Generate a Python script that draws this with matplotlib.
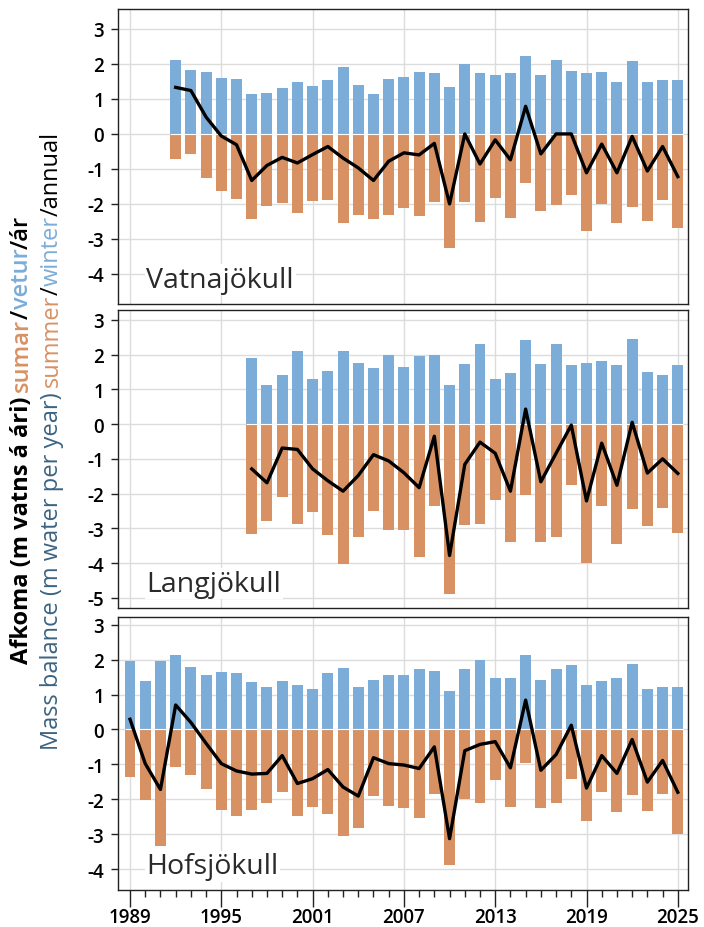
import numpy as np
import matplotlib
matplotlib.use("Agg")
from matplotlib import pyplot as plt
from matplotlib.ticker import MultipleLocator, FixedLocator

plt.rcParams['font.family'] = ['Open Sans', 'DejaVu Sans']

years = list(range(1989, 2026))

# Vatnajökull, 1992-2025
vat_start = 1992
vat_winter = [2.10, 1.83, 1.78, 1.60, 1.57, 1.14, 1.17, 1.31, 1.49, 1.37, 1.54, 1.91, 1.40, 1.14, 1.57, 1.63,
              1.77, 1.74, 1.34, 2.00, 1.74, 1.69, 1.74, 2.23, 1.69, 2.11, 1.80, 1.74, 1.77, 1.49, 2.09, 1.49, 1.54, 1.54]
vat_summer = [-0.71, -0.57, -1.26, -1.63, -1.86, -2.43, -2.06, -1.97, -2.26, -1.91, -1.89, -2.54, -2.31, -2.43, -2.31, -2.11,
              -2.34, -1.94, -3.26, -1.94, -2.51, -1.83, -2.40, -1.40, -2.20, -2.03, -1.74, -2.77, -2.00, -2.54, -2.09, -2.49, -1.89, -2.69]
vat_annual = [1.33, 1.24, 0.48, -0.06, -0.31, -1.33, -0.90, -0.67, -0.83, -0.59, -0.36, -0.69, -0.97, -1.33, -0.78, -0.54,
              -0.60, -0.27, -2.00, 0.00, -0.86, -0.17, -0.74, 0.79, -0.57, 0.00, 0.00, -1.11, -0.29, -1.11, -0.07, -1.06, -0.36, -1.22]

# Langjökull, 1997-2025
lan_start = 1997
lan_winter = [1.89, 1.11, 1.40, 2.11, 1.29, 1.54, 2.09, 1.77, 1.60, 2.00, 1.63,
              1.97, 2.00, 1.11, 1.74, 2.31, 1.31, 1.46, 2.43, 1.74, 2.29, 1.69, 1.77, 1.80, 1.69, 2.46, 1.51, 1.40, 1.71]
lan_summer = [-3.17, -2.80, -2.11, -2.86, -2.54, -3.20, -4.03, -3.26, -2.51, -3.06, -3.06,
              -3.83, -2.37, -4.89, -2.91, -2.86, -2.17, -3.40, -2.03, -3.40, -3.26, -1.74, -4.00, -2.37, -3.46, -2.43, -2.94, -2.40, -3.14]
lan_annual = [-1.29, -1.69, -0.69, -0.73, -1.29, -1.63, -1.93, -1.48, -0.88, -1.06, -1.40,
              -1.83, -0.35, -3.78, -1.16, -0.52, -0.84, -1.93, 0.43, -1.66, -0.84, -0.03, -2.21, -0.55, -1.76, 0.05, -1.41, -1.00, -1.42]

# Hofsjökull, 1989-2025
hof_start = 1989
hof_winter = [1.95, 1.38, 1.95, 2.12, 1.78, 1.55, 1.64, 1.61, 1.35, 1.21, 1.38, 1.26, 1.15, 1.61, 1.75, 1.21, 1.41, 1.55, 1.55,
              1.72, 1.67, 1.09, 1.72, 1.98, 1.46, 1.46, 2.12, 1.41, 1.72, 1.84, 1.26, 1.38, 1.46, 1.87, 1.15, 1.21, 1.21]
hof_summer = [-1.35, -2.01, -3.33, -1.09, -1.32, -1.72, -2.30, -2.47, -2.30, -2.12, -1.78, -2.47, -2.21, -2.41, -3.04, -2.81, -1.92, -2.18, -2.24,
              -2.53, -1.84, -3.88, -1.98, -2.10, -1.46, -2.21, -0.95, -2.24, -2.12, -1.41, -2.61, -1.78, -2.38, -1.89, -2.35, -1.84, -3.01]
hof_annual = [0.29, -0.98, -1.72, 0.70, 0.20, -0.40, -0.98, -1.19, -1.28, -1.26, -0.75, -1.55, -1.41, -1.15, -1.65, -1.91, -0.81, -0.98, -1.02,
              -1.12, -0.50, -3.13, -0.61, -0.43, -0.35, -1.10, 0.84, -1.17, -0.72, 0.12, -1.68, -0.75, -1.26, -0.29, -1.51, -0.89, -1.80]

names = ["Vatnajökull", "Langjökull", "Hofsjökull"]
yticks = [list(range(-4, 4)), list(range(-5, 4)), list(range(-4, 4))]

blue = "#7badd8"
orange = "#d89163"
slate = "#3b6482"

fig = plt.figure(figsize=(7.04, 9.28), dpi=100)
W, H = 704, 928
boxes = [(10, 305, (-4.86, 3.57)), (311, 609, (-5.29, 3.28)), (618, 891, (-4.60, 3.22))]
data = [(vat_start, vat_winter, vat_summer, vat_annual),
        (lan_start, lan_winter, lan_summer, lan_annual),
        (hof_start, hof_winter, hof_summer, hof_annual)]

for i in range(3):
    top, bot, ylim = boxes[i]
    ax = fig.add_axes([118 / W, 1 - bot / H, (688 - 118) / W, (bot - top) / H])
    start, wi, su, an = data[i]
    yrs = np.arange(start, start + len(wi))
    ax.bar(yrs, wi, width=0.72, color=blue, zorder=2)
    ax.bar(yrs, su, width=0.72, color=orange, zorder=2)
    ax.hlines(0, yrs[0] - 0.36, yrs[-1] + 0.36, color="white", lw=0.8, zorder=2.5)
    ax.plot(yrs, an, color="black", lw=2.4, zorder=3)
    ax.set_xlim(1988.21, 2025.67)
    ax.set_ylim(*ylim)
    ax.set_yticks(yticks[i])
    ax.set_yticklabels([str(v) for v in yticks[i]])
    ax.xaxis.set_major_locator(FixedLocator(list(range(1989, 2026, 6))))
    ax.xaxis.set_minor_locator(MultipleLocator(1))
    ax.grid(True, color="#dcdcdc", lw=1, zorder=0)
    ax.set_axisbelow(True)
    for s in ax.spines.values():
        s.set_color("#222222")
        s.set_linewidth(1.0)
    ax.tick_params(axis="y", direction="out", length=5, width=1, color="#222222",
                   labelsize=13.5, pad=5)
    for lab in ax.get_yticklabels():
        lab.set_fontweight("semibold")
    if i < 2:
        ax.tick_params(axis="x", which="both", length=0, labelbottom=False)
    else:
        ax.tick_params(axis="x", which="major", direction="out", length=12, width=1,
                       color="#222222", labelsize=13.5, pad=0)
        ax.tick_params(axis="x", which="minor", direction="out", length=5, width=1, color="#222222")
        for lab in ax.get_xticklabels():
            lab.set_fontweight("semibold")
    ax.text(0.05, 0.035, names[i], transform=ax.transAxes, fontsize=20.5,
            color="#2a2a2a", ha="left", va="bottom", zorder=5,
            bbox=dict(facecolor="white", edgecolor="none", pad=1.0))

# two-line, multi-coloured y label
line1 = [("Afkoma (m vatns á ári)", "black", "bold"), (" ", "black", "bold"),
         ("sumar", orange, "semibold"), ("/", "black", "semibold"),
         ("vetur", blue, "semibold"), ("/ár", "black", "semibold")]
line2 = [("Mass balance (m water per year)", slate, "normal"), (" ", slate, "normal"),
         ("summer", orange, "normal"), ("/", "black", "normal"),
         ("winter", blue, "normal"), ("/annual", "black", "normal")]

fig.canvas.draw()
renderer = fig.canvas.get_renderer()

def draw_line(parts, xpix, ycenter, size):
    lengths = []
    for txt, col, wt in parts:
        if txt == " ":
            lengths.append(size * 0.3)
            continue
        t = fig.text(0, 0, txt, rotation=90, fontsize=size, fontweight=wt)
        bb = t.get_window_extent(renderer)
        lengths.append(bb.height)
        t.remove()
    total = sum(lengths)
    y = (H - ycenter) - total / 2
    for (txt, col, wt), ln in zip(parts, lengths):
        if txt != " ":
            fig.text(xpix / W, y / H, txt, rotation=90, fontsize=size, fontweight=wt,
                     color=col, ha="center", va="bottom")
        y += ln

draw_line(line1, 22, 440, 17)
draw_line(line2, 52, 441, 17)

fig.savefig("out.png", dpi=100)
